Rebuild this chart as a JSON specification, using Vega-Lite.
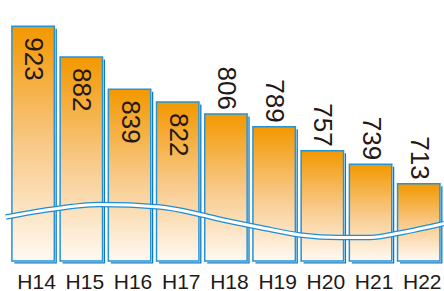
{
  "$schema": "https://vega.github.io/schema/vega-lite/v6.json",
  "width": 443,
  "height": 261,
  "autosize": {"type": "none"},
  "padding": {"left": 1, "top": 0, "right": 0, "bottom": 30},
  "background": "#ffffff",
  "config": {"view": {"stroke": null}, "font": "Liberation Sans, Arial, sans-serif"},
  "datasets": {
    "bars": [
      {"year": "H14", "value": 923},
      {"year": "H15", "value": 882},
      {"year": "H16", "value": 839},
      {"year": "H17", "value": 822},
      {"year": "H18", "value": 806},
      {"year": "H19", "value": 789},
      {"year": "H20", "value": 757},
      {"year": "H21", "value": 739},
      {"year": "H22", "value": 713}
    ],
    "wave": [
      {"t": 0.011, "v": 668.7},
      {"t": 0.11, "v": 678.7},
      {"t": 0.2235, "v": 685.3},
      {"t": 0.359, "v": 682.0},
      {"t": 0.449, "v": 672.0},
      {"t": 0.499, "v": 665.0},
      {"t": 0.585, "v": 654.7},
      {"t": 0.675, "v": 644.7},
      {"t": 0.765, "v": 641.3},
      {"t": 0.833, "v": 641.3},
      {"t": 0.9, "v": 647.3},
      {"t": 1.0, "v": 660.0}
    ]
  },
  "layer": [
    {
      "data": {"name": "bars"},
      "encoding": {
        "x": {
          "field": "year", "type": "nominal", "sort": null,
          "scale": {"paddingInner": 0.12, "paddingOuter": 0.155, "align": 0.73},
          "axis": {"title": null, "labelAngle": 0, "ticks": false, "domain": false, "labelPadding": 27, "labelBaseline": "alphabetic",
                   "labelOffset": 3.5, "labelFontSize": 21, "labelColor": "#231815", "labelFont": "Liberation Sans, Arial, sans-serif"}
        },
        "y": {
          "field": "value", "type": "quantitative",
          "scale": {"domain": [610, 958], "zero": false, "nice": false},
          "axis": {"title": null, "labels": false, "ticks": false, "grid": false, "domain": true, "domainColor": "#9a9a9a", "domainWidth": 2}
        },
        "y2": {"datum": 610}
      },
      "layer": [
        {"mark": {"type": "bar", "xOffset": 2.5, "yOffset": 2.5, "y2Offset": 2.5, "fill": "#0B79C3"}},
        {"mark": {"type": "bar", "xOffset": 1.2, "yOffset": 1.2, "y2Offset": 1.2, "fill": "#ffffff"}},
        {"mark": {"type": "bar", "stroke": "#2593D6", "strokeWidth": 1.5,
          "fill": {"gradient": "linear", "x1": 0, "y1": 0, "x2": 0, "y2": 1,
                   "stops": [{"offset": 0, "color": "#F39800"}, {"offset": 0.5, "color": "#F8C886"}, {"offset": 1, "color": "#FFF9F2"}]}}},
        {
          "transform": [{"filter": "datum.value >= 820"}],
          "mark": {"type": "text", "angle": 90, "align": "left", "baseline": "middle", "dx": 11, "fontSize": 26, "color": "#231815"},
          "encoding": {"text": {"field": "value", "type": "quantitative"}}
        },
        {
          "transform": [{"filter": "datum.value < 820"}],
          "mark": {"type": "text", "angle": 90, "align": "right", "baseline": "middle", "dx": -4, "fontSize": 26, "color": "#231815"},
          "encoding": {"text": {"field": "value", "type": "quantitative"}}
        }
      ]
    },
    {
      "data": {"name": "wave"},
      "encoding": {
        "x": {"field": "t", "type": "quantitative", "scale": {"domain": [0, 1], "nice": false, "zero": false}, "axis": null},
        "y": {"field": "v", "type": "quantitative", "axis": null}
      },
      "layer": [
        {"mark": {"type": "line", "interpolate": "monotone", "stroke": "#1E8ED4", "strokeWidth": 5.5}},
        {"mark": {"type": "line", "interpolate": "monotone", "stroke": "#ffffff", "strokeWidth": 3}}
      ]
    }
  ],
  "resolve": {"scale": {"x": "independent"}}
}
